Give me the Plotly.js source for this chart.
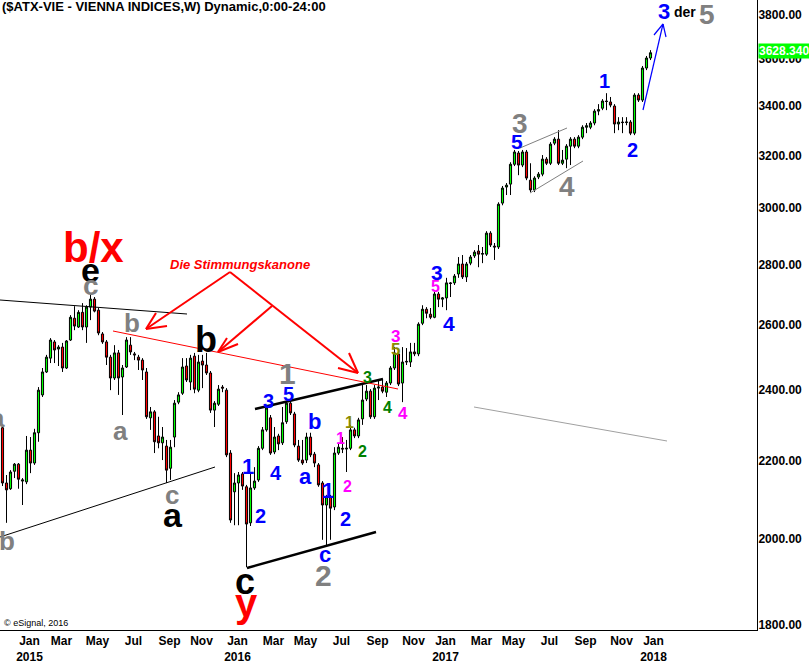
<!DOCTYPE html>
<html>
<head>
<meta charset="utf-8">
<script src="https://cdn.plot.ly/plotly-3.0.1.min.js"></script>
<style>html,body{margin:0;padding:0;background:#fff;}#chart{width:809px;height:663px;}</style>
</head>
<body>
<div id="chart"></div>
<script>
// Weekly bars: first bar week of 2014-12-08, last bar week of 2018-01-15
const firstWeek = '2014-12-08';
const barCount = 163;

const openP = [
2292,2142,2127,2173,2192,2147,2145,2230,2195,2278,
2386,2454,2496,2546,2524,2530,2466,2552,2621,2593,
2640,2593,2657,2683,2647,2571,2546,2499,2436,2512,
2439,2469,2536,2509,2499,2490,2454,2320,2337,2269,
2250,2241,2181,2266,2365,2391,2472,2424,2502,2400,
2487,2475,2451,2342,2359,2409,2400,2222,2119,2142,
2166,2132,2040,2129,2150,2235,2286,2320,2225,2269,
2250,2309,2362,2331,2241,2203,2203,2266,2219,2190,
2142,2085,2106,2080,2222,2235,2233,2235,2286,2269,
2317,2374,2397,2323,2406,2409,2394,2421,2466,2509,
2421,2484,2484,2515,2509,2605,2650,2634,2624,2700,
2683,2687,2737,2737,2767,2801,2757,2804,2829,2846,
2835,2835,2909,2863,2860,3018,3078,3089,3165,3209,
3162,3213,3104,3067,3116,3127,3185,3169,3248,3264,
3169,3185,3236,3264,3236,3272,3312,3312,3329,3378,
3390,3420,3416,3399,3325,3333,3331,3333,3288,3445,
3424,3561,3605];

const highP = [
2300,2163,2176,2195,2195,2155,2269,2266,2289,2409,
2466,2506,2558,2552,2536,2543,2552,2631,2660,2647,
2670,2663,2703,2690,2654,2577,2552,2506,2536,2521,
2475,2561,2561,2515,2506,2496,2466,2351,2342,2323,
2294,2258,2258,2371,2394,2496,2496,2506,2512,2506,
2506,2512,2457,2368,2415,2415,2406,2230,2168,2171,
2171,2137,2168,2184,2241,2294,2357,2328,2294,2275,
2351,2365,2368,2337,2258,2258,2278,2278,2225,2195,
2147,2111,2111,2238,2250,2266,2258,2300,2292,2320,
2415,2415,2403,2415,2430,2430,2427,2472,2530,2515,
2530,2527,2543,2543,2608,2663,2657,2654,2707,2707,
2690,2754,2740,2767,2825,2832,2808,2832,2849,2867,
2860,2916,2916,2874,3021,3082,3093,3173,3221,3217,
3221,3221,3169,3119,3135,3201,3193,3252,3272,3300,
3221,3244,3272,3272,3280,3320,3329,3337,3386,3407,
3428,3453,3437,3407,3353,3353,3353,3341,3453,3453,
3570,3614,3640];

const lowP = [
2134,2040,2124,2155,2127,2085,2139,2168,2190,2253,
2380,2451,2481,2481,2472,2454,2463,2549,2583,2590,
2583,2543,2615,2640,2567,2540,2475,2400,2430,2386,
2328,2466,2506,2490,2460,2430,2317,2286,2222,2235,
2203,2142,2150,2238,2359,2386,2424,2400,2391,2394,
2406,2445,2334,2294,2354,2394,2211,2040,2034,2034,
2124,1932,2032,2124,2145,2230,2281,2217,2219,2230,
2244,2303,2328,2238,2198,2190,2195,2211,2184,2132,
1998,1985,1998,2072,2217,2222,2171,2230,2263,2263,
2300,2368,2317,2317,2371,2391,2380,2415,2460,2412,
2365,2475,2469,2502,2502,2599,2621,2618,2621,2657,
2657,2647,2690,2730,2754,2750,2740,2797,2822,2790,
2804,2829,2860,2815,2853,3010,3048,3048,3158,3123,
3154,3104,3059,3059,3108,3119,3162,3162,3240,3162,
3162,3150,3162,3228,3228,3264,3288,3304,3320,3361,
3382,3382,3394,3288,3300,3288,3320,3280,3280,3416,
3416,3552,3596];

const closeP = [
2142,2124,2171,2192,2152,2150,2230,2195,2278,2400,
2454,2499,2552,2521,2530,2466,2549,2624,2596,2640,
2593,2657,2683,2644,2574,2546,2499,2436,2512,2436,
2466,2552,2515,2506,2490,2460,2323,2337,2253,2250,
2266,2176,2238,2362,2386,2469,2430,2496,2403,2484,
2475,2451,2342,2362,2403,2406,2217,2047,2142,2163,
2134,2037,2129,2147,2235,2286,2348,2222,2266,2247,
2306,2362,2334,2244,2203,2195,2266,2217,2195,2137,
2085,2106,2077,2222,2238,2233,2235,2286,2269,2314,
2371,2397,2323,2406,2409,2397,2421,2466,2512,2418,
2484,2486,2515,2509,2602,2650,2637,2624,2700,2683,
2687,2737,2735,2760,2801,2757,2801,2825,2842,2835,
2837,2909,2867,2860,3014,3074,3085,3165,3213,3162,
3213,3112,3067,3112,3127,3185,3169,3244,3264,3169,
3181,3236,3264,3236,3272,3312,3318,3329,3378,3384,
3420,3418,3403,3325,3333,3331,3333,3288,3445,3424,
3561,3605,3628.34];

const lastPriceLabel = '3628.340';

const tickDates = ['2015-01-05','2015-03-02','2015-05-04','2015-07-06','2015-09-07','2015-11-02',
  '2016-01-04','2016-03-07','2016-05-02','2016-07-04','2016-09-05','2016-11-07',
  '2017-01-02','2017-03-06','2017-05-01','2017-07-03','2017-09-04','2017-11-06','2018-01-01'];
const tickText = ['Jan<br>2015','Mar','May','Jul','Sep','Nov',
  'Jan<br>2016','Mar','May','Jul','Sep','Nov',
  'Jan<br>2017','Mar','May','Jul','Sep','Nov','Jan<br>2018'];
const yTicks = [1800,2000,2200,2400,2600,2800,3000,3200,3400,3600,3800];
const yTickText = ['1800.00','2000.00','2200.00','2400.00','2600.00','2800.00','3000.00','3200.00','3400.00','3600.00','3800.00'];

// build weekly dates
const dates = [];
(function(){
  const t0 = Date.parse(firstWeek + 'T00:00:00Z');
  for (let k = 0; k < barCount; k++) {
    dates.push(new Date(t0 + k*7*86400000).toISOString().slice(0,10));
  }
})();

// ---- annotation geometry (pixel positions inside the 757x630 plot area) ----
const PW = 757, PH = 630;
const px = x => x / PW;
const py = y => 1 - y / PH;

const FONT = 'Liberation Sans, Arial, sans-serif';
const BLUE = '#0000FF', GRAY = '#808080', MAG = '#FF00FF', GRN = '#008000', OLV = '#8A8A00', RED = '#FF0000';

const labels = [
  ['b/x', 93, 248, RED, 42],
  ['e', 90, 270, '#000', 34],
  ['c', 91, 286, GRAY, 28],
  ['b', 132, 323, GRAY, 26],
  ['b', 206, 339, '#000', 36],
  ['a', 120, 431, GRAY, 26],
  ['c', 172, 495, GRAY, 26],
  ['a', 173, 515, '#000', 34],
  ['b', 7, 541, GRAY, 26],
  ['a', -3, 418, GRAY, 26],
  ['c', 245, 581, '#000', 36],
  ['y', 246, 603, RED, 40],
  ['1', 287, 373, GRAY, 30],
  ['3', 268, 401, BLUE, 20],
  ['5', 288, 394, BLUE, 20],
  ['1', 248, 466, BLUE, 22],
  ['4', 276, 473, BLUE, 20],
  ['2', 260, 516, BLUE, 20],
  ['b', 314, 421, BLUE, 22],
  ['a', 305, 476, BLUE, 22],
  ['1', 328, 490, BLUE, 22],
  ['2', 345, 519, BLUE, 20],
  ['c', 325, 554, BLUE, 22],
  ['2', 323, 575, GRAY, 30],
  ['1', 340, 438, MAG, 16],
  ['2', 347, 486, MAG, 16],
  ['1', 349, 423, OLV, 16],
  ['2', 362, 451, GRN, 16],
  ['3', 367, 377, GRN, 16],
  ['4', 387, 407, GRN, 16],
  ['4', 403, 413, MAG, 17],
  ['3', 395, 336, MAG, 17],
  ['5', 395, 349, OLV, 17],
  ['3', 437, 272, BLUE, 21],
  ['5', 435, 287, MAG, 16],
  ['4', 449, 324, BLUE, 21],
  ['3', 520, 124, GRAY, 28],
  ['5', 517, 141, BLUE, 21],
  ['4', 567, 186, GRAY, 28],
  ['1', 604, 81, BLUE, 20],
  ['2', 632, 150, BLUE, 20],
  ['3', 664, 11, BLUE, 22],
  ['der', 685, 12, '#000', 14],
  ['5', 707, 14, GRAY, 28]
];

const annotations = labels.map(l => ({
  text: l[0], x: px(l[1]), y: py(l[2]), xref: 'paper', yref: 'paper',
  xanchor: 'center', yanchor: 'middle', showarrow: false,
  font: {family: FONT, size: l[4], color: l[3], weight: 'bold'}
}));

annotations.push({
  text: 'Die Stimmungskanone', x: px(240), y: py(264), xref: 'paper', yref: 'paper',
  xanchor: 'center', yanchor: 'middle', showarrow: false,
  font: {family: FONT, size: 13, color: RED, weight: 'bold', style: 'italic'}
});
annotations.push({
  text: '($ATX-VIE - VIENNA INDICES,W) Dynamic,0:00-24:00', x: 0, y: py(7), xref: 'paper', yref: 'paper',
  xanchor: 'left', yanchor: 'middle', showarrow: false,
  font: {family: FONT, size: 13, color: '#000', weight: 'bold'}
});
annotations.push({
  text: '© eSignal, 2016', x: px(2), y: py(623), xref: 'paper', yref: 'paper',
  xanchor: 'left', yanchor: 'middle', showarrow: false,
  font: {family: FONT, size: 9, color: '#000'}
});
annotations.push({
  text: lastPriceLabel, x: 1, y: py(50.5), xref: 'paper', yref: 'paper',
  xanchor: 'left', yanchor: 'middle', showarrow: false, bgcolor: '#00FF00', borderpad: 0, xshift: 1,
  font: {family: FONT, size: 12, color: '#FFFFFF', weight: 'bold'}
});

const segs = [
  // [x0,y0,x1,y1,color,width]
  [0,300,187,314,'#000',1],
  [0,537,215,467,'#000',1],
  [255,409,383,379,'#000',2.5],
  [247,568,376,532,'#000',2.5],
  [113,331,398,389,RED,1],
  [230,272,146,329,RED,2],
  [146,329,156,313,RED,2],
  [146,329,167,326,RED,2],
  [230,272,358,373,RED,2],
  [358,373,338,368,RED,2],
  [358,373,349,353,RED,2],
  [272,306,218,352,RED,2],
  [218,352,227,338,RED,2],
  [218,352,238,344,RED,2],
  [520,148,567,128,GRAY,1],
  [530,193,583,161,GRAY,1],
  [474,407,667,441,'#A0A0A0',1],
  [643,110,663,24,BLUE,1.2],
  [663,24,654,35,BLUE,1.2],
  [663,24,666,37,BLUE,1.2]
];
const shapes = segs.map(s => ({
  type: 'line', xref: 'paper', yref: 'paper',
  x0: px(s[0]), y0: py(s[1]), x1: px(s[2]), y1: py(s[3]),
  line: {color: s[4], width: s[5]}
}));

const trace = {
  type: 'candlestick', x: dates, open: openP, high: highP, low: lowP, close: closeP,
  increasing: {fillcolor: '#00FF00', line: {color: '#000', width: 1}},
  decreasing: {fillcolor: '#FF0000', line: {color: '#000', width: 1}},
  whiskerwidth: 0, hoverinfo: 'skip', showlegend: false
};

const tickFont = {family: FONT, size: 12, color: '#000', weight: 'bold'};
const layout = {
  width: 809, height: 663,
  margin: {l: 0, r: 52, t: 0, b: 33, pad: 0},
  paper_bgcolor: '#fff', plot_bgcolor: '#fff',
  showlegend: false, boxgap: 0.25,
  xaxis: {
    type: 'date', range: ['2014-12-03 15:00', '2018-07-20 09:00'],
    tickvals: tickDates, ticktext: tickText, ticklabelshift: 11,
    showgrid: false, zeroline: false, showline: true, linecolor: '#000', linewidth: 1,
    ticks: '', tickfont: tickFont, rangeslider: {visible: false}, fixedrange: true
  },
  yaxis: {
    type: 'log', side: 'right', range: [3.25261, 3.58777],
    tickvals: yTicks, ticktext: yTickText, ticklabelstandoff: -2,
    showgrid: false, zeroline: false, showline: true, linecolor: '#000', linewidth: 1,
    ticks: '', tickfont: tickFont, fixedrange: true
  },
  shapes: shapes,
  annotations: annotations
};

Plotly.newPlot('chart', [trace], layout, {staticPlot: true, displayModeBar: false});
</script>
</body>
</html>
